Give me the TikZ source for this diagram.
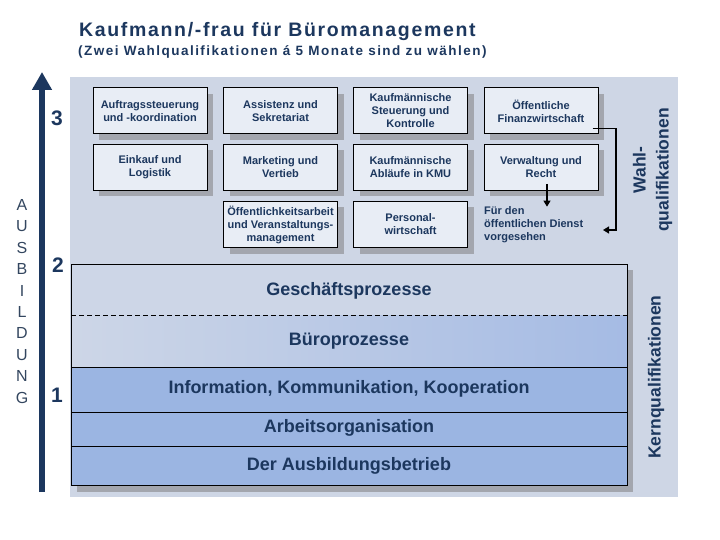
\documentclass[tikz,border=0pt]{standalone}
\usepackage{fontspec}
\setmainfont{Liberation Sans}
\usetikzlibrary{shadows,arrows.meta}
\definecolor{navy}{HTML}{1C375E}
\definecolor{panel}{HTML}{CED6E5}
\definecolor{boxfill}{HTML}{E8EDF5}
\definecolor{shadowgray}{HTML}{A3A6AE}
\definecolor{coreblue}{HTML}{9BB5E2}
\definecolor{corelight}{HTML}{CDD6E7}
\definecolor{coremid}{HTML}{A5BBE4}
\definecolor{lettergray}{HTML}{33465F}
\begin{document}
\begin{tikzpicture}[x=1pt,y=-1pt,
  wahlbox/.style={draw=black,line width=1pt,fill=boxfill,text=navy,align=center,
    minimum width=114pt,minimum height=46pt,inner sep=1pt,
    font=\bfseries\fontsize{11}{13}\selectfont,
    drop shadow={shadow xshift=6pt,shadow yshift=-6pt,fill=shadowgray,opacity=1}},
  layertext/.style={text=navy,font=\bfseries\fontsize{18}{20}\selectfont},
  sidetext/.style={text=navy,rotate=90,align=center,font=\bfseries\fontsize{17.5}{23}\selectfont},
  level/.style={text=navy,font=\bfseries\fontsize{21}{24}\selectfont},
  pointer/.style={line width=1.2pt,-{Triangle[width=7pt,length=6pt]}}]
\useasboundingbox (0,0) rectangle (720,540);
\fill[panel] (70,77) rectangle (678,497);
\node[anchor=west,inner sep=0pt,text=navy,font=\bfseries\fontsize{19.5}{22}\selectfont\addfontfeature{LetterSpace=8.5}] (title) at (79,32) {Kaufmann/-frau für Büromanagement};
\node[anchor=west,inner sep=0pt,text=navy,font=\bfseries\fontsize{13.5}{16}\selectfont\addfontfeature{LetterSpace=11}] (subtitle) at (78,52) {(Zwei Wahlqualifikationen á 5 Monate sind zu wählen)};
\coordinate (axisbot) at (42,492);
\coordinate (axistop) at (42,72);
\draw[navy,line width=6pt,-{Triangle[width=19pt,length=18pt]}] (axisbot) -- (axistop);
\foreach \l [count=\i from 0] in {A,U,S,B,I,L,D,U,N,G}
  \node[text=lettergray,font=\fontsize{16}{18}\selectfont] (letter\i) at (22,205+21.4*\i) {\l};
\node[level] (lvlthree) at (57,118) {3};
\node[level] (lvltwo) at (58,265) {2};
\node[level] (lvlone) at (57,395) {1};
\node[wahlbox] (auftrag) at (150,111) {Auftragssteuerung\\und -koordination};
\node[wahlbox] (assistenz) at (280.5,111) {Assistenz und\\Sekretariat};
\node[wahlbox] (steuerung) at (410.5,111) {Kaufmännische\\Steuerung und\\Kontrolle};
\node[wahlbox] (finanz) at (541,111) {Öffentliche\\Finanzwirtschaft};
\node[wahlbox] (einkauf) at (150,167.5) {Einkauf und\\Logistik};
\node[wahlbox] (marketing) at (280.5,167.5) {Marketing und\\Vertieb};
\node[wahlbox] (kmu) at (410.5,167.5) {Kaufmännische\\Abläufe in KMU};
\node[wahlbox] (verwaltung) at (541,167.5) {Verwaltung und\\Recht};
\node[wahlbox] (oeffentlich) at (280.5,224.5) {Öffentlichkeitsarbeit\\und Veranstaltungs-\\management};
\node[wahlbox] (personal) at (410.5,224.5) {Personal-\\wirtschaft};
\node[anchor=west,align=left,inner sep=0pt,text=navy,font=\bfseries\fontsize{11}{13}\selectfont] (dienst) at (484,225) {Für den\\öffentlichen Dienst\\vorgesehen};
\coordinate (bend) at (616,230);
\coordinate (dienstin) at (603,230);
\draw[pointer] ([xshift=6pt,yshift=7pt]verwaltung.south) -- ([xshift=6pt]verwaltung.south |- dienst.north);
\draw[pointer] ([xshift=-6pt,yshift=6pt]finanz.south east) -| (bend) -- (dienstin);
\node[sidetext] (wahlq) at (652.5,170) {Wahl-\\qualifikationen};
\fill[shadowgray] (77,270) rectangle (633,492);
\fill[corelight] (71,264) rectangle (627,315);
\shade[left color=corelight,right color=coremid] (71,315) rectangle (627,367);
\fill[coreblue] (71,367) rectangle (627,485);
\draw[dash pattern=on 5pt off 3pt] (71,315) -- (627,315);
\draw (71,367) -- (627,367);
\draw (71,412) -- (627,412);
\draw (71,446) -- (627,446);
\draw[line width=1pt] (71,264) rectangle (627,485);
\node[layertext] (geschaeft) at (349,291) {Geschäftsprozesse};
\node[layertext] (buero) at (349,341) {Büroprozesse};
\node[layertext] (ikk) at (349,389) {Information, Kommunikation, Kooperation};
\node[layertext] (arbeit) at (349,428) {Arbeitsorganisation};
\node[layertext] (betrieb) at (349,466) {Der Ausbildungsbetrieb};
\node[sidetext] (kernq) at (656,377) {Kernqualifikationen};
\end{tikzpicture}
\end{document}
